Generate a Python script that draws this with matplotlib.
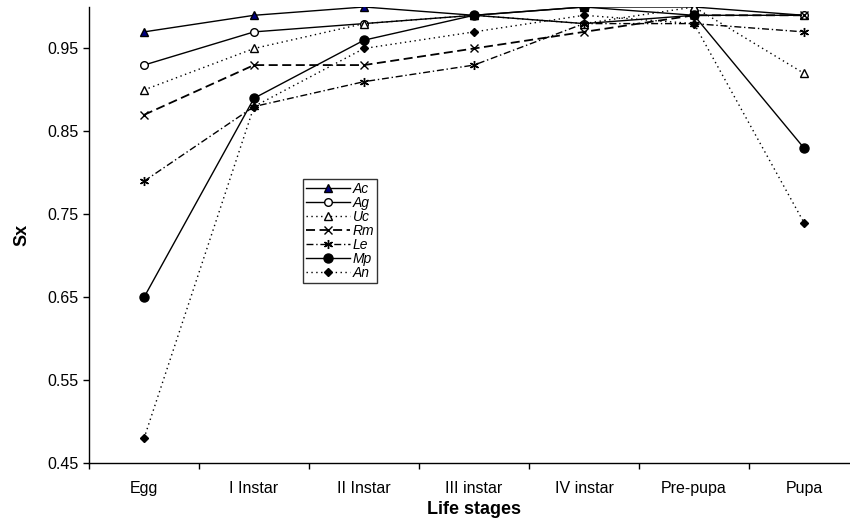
import matplotlib
matplotlib.use('Agg')
import matplotlib.pyplot as plt
import numpy as np

stages = ['Egg', 'I Instar', 'II Instar', 'III instar', 'IV instar', 'Pre-pupa', 'Pupa']

ac = [0.97, 0.99, 1.00, 0.99, 1.00, 1.00, 0.99]
ag = [0.93, 0.97, 0.98, 0.99, 0.98, 0.99, 0.99]
uc = [0.90, 0.95, 0.98, 0.99, 0.98, 1.00, 0.92]
rm = [0.87, 0.93, 0.93, 0.95, 0.97, 0.99, 0.99]
le = [0.79, 0.88, 0.91, 0.93, 0.98, 0.98, 0.97]
mp = [0.65, 0.89, 0.96, 0.99, 1.00, 0.99, 0.83]
an = [0.48, 0.88, 0.95, 0.97, 0.99, 0.98, 0.74]

yticks = [0.45, 0.55, 0.65, 0.75, 0.85, 0.95]

plt.rcParams['font.family'] = ['Liberation Sans', 'DejaVu Sans']
fs = 11.5

fig = plt.figure(figsize=(8.5, 5.23), dpi=100)
ax = fig.add_axes([89 / 850, 1 - 463.3 / 523, 770 / 850, 456.3 / 523])

x = np.arange(len(stages))
dot = (0, (1, 2.5))

series = [
    ('Ac', ac, dict(ls='-', marker='^', mfc='#000080', mec='black', ms=5.5)),
    ('Ag', ag, dict(ls='-', marker='o', mfc='white', mec='black', ms=5.5)),
    ('Uc', uc, dict(ls=dot, marker='^', mfc='white', mec='black', ms=5.5)),
    ('Rm', rm, dict(ls=(0, (5, 2.5)), marker='x', mfc='black', mec='black', ms=5.5, lw=1.3)),
    ('Le', le, dict(ls=(0, (5, 2, 1, 2)), marker=(6, 2, 0), mfc='black', mec='black', ms=6.5)),
    ('Mp', mp, dict(ls='-', marker='o', mfc='black', mec='black', ms=6.5)),
    ('An', an, dict(ls=dot, marker='D', mfc='black', mec='black', ms=4)),
]

for name, vals, st in series:
    lw = st.pop('lw', 1.0)
    ax.plot(x, vals, color='black', lw=lw, label=name, **st)

ax.set_xlim(-0.5, len(stages) - 0.5)
ax.set_ylim(0.45, 1.0)
ax.set_yticks(yticks)
ax.set_yticklabels(['%.2f' % v for v in yticks], fontsize=fs)
ax.set_xticks(x)
ax.set_xticklabels(stages, fontsize=fs)
ax.set_xticks(np.arange(-0.5, len(stages) + 0.5, 1), minor=True)
ax.tick_params(axis='x', which='major', length=0, pad=13)
ax.tick_params(axis='x', which='minor', length=4, direction='out', width=1)
ax.tick_params(axis='y', length=4, direction='out', width=1)

for s in ['top', 'right']:
    ax.spines[s].set_visible(False)
ax.spines['left'].set_linewidth(1)
ax.spines['bottom'].set_linewidth(1)

ax.set_ylabel('Sx', fontsize=fs + 1.5, fontweight='bold', labelpad=12)
ax.set_xlabel('Life stages', fontsize=fs + 1.5, fontweight='bold', labelpad=3)

# legend box sits at about (303, 179) px in the reference
leg = ax.legend(loc='upper left', frameon=True, fancybox=False, edgecolor='black',
                prop={'style': 'italic', 'size': 10},
                handlelength=3.2, handletextpad=0.2, labelspacing=0.0,
                borderpad=0.2, borderaxespad=0)
leg.get_frame().set_linewidth(1)
leg.set_bbox_to_anchor((303 / 850, 1 - 179 / 523), transform=fig.transFigure)

fig.savefig('out.png', dpi=100)
